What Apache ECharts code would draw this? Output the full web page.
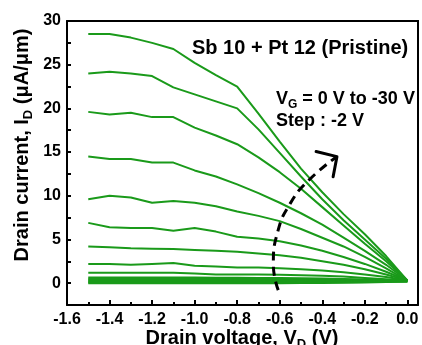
<!DOCTYPE html>
<html><head><meta charset="utf-8">
<script src="https://cdn.jsdelivr.net/npm/echarts@6/dist/echarts.min.js"></script>
<style>html,body{margin:0;padding:0;background:#fff}#c{width:422px;height:345px}</style>
</head><body><div id="c"></div>
<script>
// Drain voltage V_D (V)
const drainVoltage = [-1.5,-1.4,-1.3,-1.2,-1.1,-1.0,-0.9,-0.8,-0.7,-0.6,-0.5,-0.4,-0.3,-0.2,-0.1,0.0];
// Drain current I_D (uA/um) for each gate voltage
const idVg30 = [28.5,28.5,28.1,27.5,26.8,25.2,23.8,22.5,19.4,16.2,13.1,10.4,7.9,5.6,3.1,0.3];
const idVg28 = [24.0,24.2,24.0,23.7,22.4,21.6,20.8,20.0,17.6,14.9,12.2,9.6,7.2,5.0,2.8,0.3];
const idVg26 = [19.6,19.3,19.5,19.0,19.0,17.8,16.9,15.9,14.4,12.7,10.8,8.7,6.6,4.5,2.5,0.3];
const idVg24 = [14.5,14.2,14.2,13.8,13.8,12.9,12.2,11.3,10.3,9.2,8.0,6.7,5.2,3.7,2.1,0.3];
const idVg22 = [9.6,10.0,9.8,9.2,9.4,9.2,8.8,8.2,7.7,7.1,6.2,5.2,4.2,3.0,1.7,0.3];
const idVg20 = [6.9,6.4,6.3,6.3,6.0,6.3,5.9,5.3,5.1,4.8,4.3,3.7,3.0,2.2,1.3,0.3];
const idVg18 = [4.2,4.1,4.0,3.95,3.9,3.8,3.7,3.6,3.4,3.2,2.9,2.5,2.1,1.6,1.0,0.3];
const idVg16 = [2.2,2.2,2.1,2.2,2.3,2.0,1.9,1.8,1.8,1.7,1.6,1.45,1.25,1.0,0.7,0.3];
const idVg14 = [1.2,1.2,1.2,1.2,1.2,1.1,1.0,1.0,1.0,0.95,0.9,0.85,0.75,0.6,0.45,0.3];
const idVg12 = [0.65,0.65,0.65,0.65,0.65,0.64,0.63,0.62,0.6,0.58,0.55,0.52,0.48,0.42,0.35,0.3];
const idVg10 = [0.5,0.5,0.5,0.5,0.5,0.5,0.49,0.48,0.47,0.46,0.44,0.42,0.39,0.35,0.31,0.3];
const idVg8  = [0.38,0.38,0.38,0.38,0.38,0.38,0.38,0.37,0.37,0.36,0.35,0.34,0.33,0.31,0.3,0.28];
const idVg6  = [0.27,0.27,0.27,0.27,0.27,0.27,0.27,0.27,0.27,0.27,0.26,0.26,0.26,0.25,0.25,0.25];
const idVg4  = [0.17,0.17,0.17,0.17,0.17,0.17,0.17,0.17,0.17,0.17,0.17,0.17,0.18,0.18,0.19,0.2];
const idVg2  = [0.08,0.08,0.08,0.08,0.08,0.08,0.08,0.08,0.08,0.08,0.09,0.1,0.11,0.13,0.16,0.2];
const idVg0  = [0.0,0.0,0.0,0.0,0.0,0.0,0.0,0.0,0.0,0.0,0.01,0.02,0.04,0.07,0.12,0.2];
const gateCurves = [idVg0,idVg2,idVg4,idVg6,idVg8,idVg10,idVg12,idVg14,idVg16,idVg18,idVg20,idVg22,idVg24,idVg26,idVg28,idVg30];
const gateLabels = ['0 V','-2 V','-4 V','-6 V','-8 V','-10 V','-12 V','-14 V','-16 V','-18 V','-20 V','-22 V','-24 V','-26 V','-28 V','-30 V'];

// Axis ranges and tick steps
const X_RANGE = {min:-1.6, max:0.05, step:0.2};
const Y_RANGE = {min:-2.5, max:30, step:2.5, labelStep:5};

// Annotation arrow (in data units)
const arrowArcV = [-0.607,-0.630,-0.607,-0.551,-0.471,-0.331];
const arrowArcI = [-0.8,2.1,6.1,9.1,11.6,14.5];
const arrowHeadV = [-0.429,-0.331,-0.349];
const arrowHeadI = [15.06,14.48,12.18];

const FONT = '"Liberation Sans", Arial, Helvetica, sans-serif';
const green = '#1a9a1a';
const zip = (a,b) => a.map((v,i)=>[v,b[i]]);

const series = gateCurves.map((c,k)=>({
  name: 'VG = ' + gateLabels[k], type:'line', data: zip(drainVoltage,c),
  showSymbol:false, symbol:'none', lineStyle:{color:green,width:2}, z:2
}));
series.push({type:'line', data: zip(arrowArcV,arrowArcI), smooth:true, symbol:'none',
  lineStyle:{color:'#000',width:3,type:[9,6]}, z:5});
series.push({type:'line', data: zip(arrowHeadV,arrowHeadI), symbol:'none',
  lineStyle:{color:'#000',width:3,cap:'round',join:'round'}, z:5});
// Plot frame (top and right edges of the axis box), from the axis ranges
series.push({type:'line', data:[[X_RANGE.min,Y_RANGE.max],[X_RANGE.max,Y_RANGE.max],[X_RANGE.max,Y_RANGE.min]],
  symbol:'none', clip:false, silent:true, lineStyle:{color:'#000',width:2,join:'miter'}, z:6});

const mkTick = () => ({color:'#000',width:2});
const labelStyle = () => ({color:'#000',fontSize:16,fontWeight:'bold',fontFamily:FONT});
const richSub = (fs, lh) => ({
  m:{fontSize:fs,fontWeight:'bold',fontFamily:FONT,color:'#000',lineHeight:lh},
  s:{fontSize:Math.round(fs*0.65),fontWeight:'bold',fontFamily:FONT,color:'#000',lineHeight:Math.round(fs*0.65),verticalAlign:'bottom'}
});
const xFmt = v => { if (v > 0.01) return ''; if (Math.abs(v) < 1e-9) return '0.0'; return Number(v).toFixed(1); };
const yFmt = v => { const r = Math.round(v*100)/100; return (r >= 0 && Math.abs(r % Y_RANGE.labelStep) < 1e-6) ? String(r) : ''; };

const option = {
  animation:false,
  grid:{left:67,right:4,top:21,bottom:40},
  xAxis:[{
    type:'value',min:X_RANGE.min,max:X_RANGE.max,interval:X_RANGE.step,position:'bottom',
    axisLine:{show:true,onZero:false,lineStyle:mkTick()},
    axisTick:{show:true,inside:true,length:5,lineStyle:mkTick()},
    minorTick:{show:true,splitNumber:2,length:3,lineStyle:mkTick()},
    axisLabel:Object.assign({margin:7,formatter:xFmt},labelStyle()),
    splitLine:{show:false},minorSplitLine:{show:false}
  },{
    type:'value',min:X_RANGE.min,max:X_RANGE.max,position:'top',
    axisLine:{show:true,onZero:false,lineStyle:{color:'#000',width:2}},
    axisTick:{show:false},axisLabel:{show:false},splitLine:{show:false}
  }],
  yAxis:[{
    type:'value',min:Y_RANGE.min,max:Y_RANGE.max,interval:Y_RANGE.step,position:'left',
    axisLine:{show:true,onZero:false,lineStyle:mkTick()},
    axisTick:{show:true,inside:true,length:4,lineStyle:mkTick()},
    axisLabel:Object.assign({margin:6,formatter:yFmt},labelStyle()),
    splitLine:{show:false}
  },{
    type:'value',min:Y_RANGE.min,max:Y_RANGE.max,position:'right',
    axisLine:{show:true,onZero:false,lineStyle:{color:'#000',width:2}},
    axisTick:{show:false},axisLabel:{show:false},splitLine:{show:false}
  }],
  graphic:[
    {type:'text',left:192,top:38,style:{text:'Sb 10 + Pt 12 (Pristine)',font:'bold 20px '+FONT,fill:'#000'}},
    {type:'text',x:276,y:99,style:{text:'{m|V}{s|G}{m| = 0 V to -30 V}',rich:richSub(18,24),align:'left',verticalAlign:'middle'}},
    {type:'text',x:276,y:121,style:{text:'Step : -2 V',font:'bold 18px '+FONT,fill:'#000',align:'left',verticalAlign:'middle'}},
    {type:'text',x:242,y:338,style:{text:'{m|Drain voltage, V}{s|D}{m| (V)}',rich:richSub(20,26),align:'center',verticalAlign:'middle'}},
    {type:'text',x:22,y:145,rotation:Math.PI/2,style:{text:'{m|Drain current, I}{s|D}{m| (μA/μm)}',rich:richSub(20,26),align:'center',verticalAlign:'middle'}}
  ],
  series:series
};
const chart = echarts.init(document.getElementById('c'),null,{renderer:'canvas'});
chart.setOption(option);
</script></body></html>
